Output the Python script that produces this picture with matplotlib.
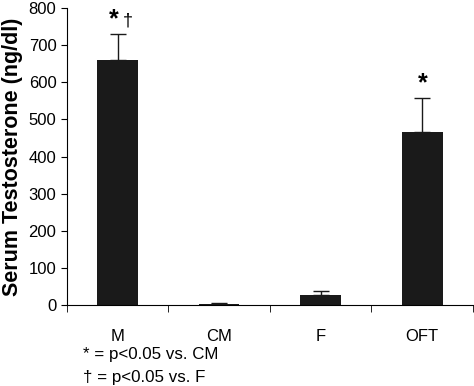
import matplotlib
matplotlib.use("Agg")
from matplotlib import pyplot as plt
import numpy as np

plt.rcParams['font.family'] = ['Liberation Sans', 'DejaVu Sans']

groups = ["M", "CM", "F", "OFT"]
means = [660, 3, 27, 467]
errs = [70, 1, 11, 91]
marks = ["*", "", "", "*"]

fig = plt.figure(figsize=(4.74, 3.86), dpi=100)
ax = fig.add_axes([0.141, 0.21, 0.857, 0.769])

x = np.arange(len(groups))
ax.bar(x, means, width=0.4, color="#1a1a1a", zorder=2)
ax.errorbar(x, means, yerr=[np.zeros(len(errs)), errs], fmt="none",
            ecolor="#1a1a1a", elinewidth=1, capsize=6, capthick=1, zorder=1)

for xi, m, e, s in zip(x, means, errs, marks):
    if s:
        ax.text(xi - 0.04 if xi == 0 else xi, m + e + 8, s, ha="center", va="bottom",
                fontsize=18, fontweight="bold")
ax.text(0.1, means[0] + errs[0] + 12, "\u2020", ha="center", va="bottom", fontsize=13)

ax.set_xlim(-0.5, 3.5)
ax.set_ylim(0, 800)
ax.set_yticks(range(0, 801, 100))
ax.set_xticks(x)
ax.set_xticklabels(groups, fontsize=12)
ax.set_xticks(np.arange(-0.5, 3.6, 1), minor=True)
ax.tick_params(axis="x", which="major", length=0, pad=17)
ax.tick_params(axis="x", which="minor", length=5, direction="out")
ax.tick_params(axis="y", length=4, direction="out", labelsize=12)
for sp in ["top", "right"]:
    ax.spines[sp].set_visible(False)
ax.set_ylabel("Serum Testosterone (ng/dl)", fontsize=15.5, fontweight="bold", labelpad=4)

fig.text(0.175, 0.081, "* = p<0.05 vs. CM", fontsize=12.2, va="center")
fig.text(0.175, 0.021, "\u2020 = p<0.05 vs. F", fontsize=12.2, va="center")

fig.savefig("out.png", dpi=100)
